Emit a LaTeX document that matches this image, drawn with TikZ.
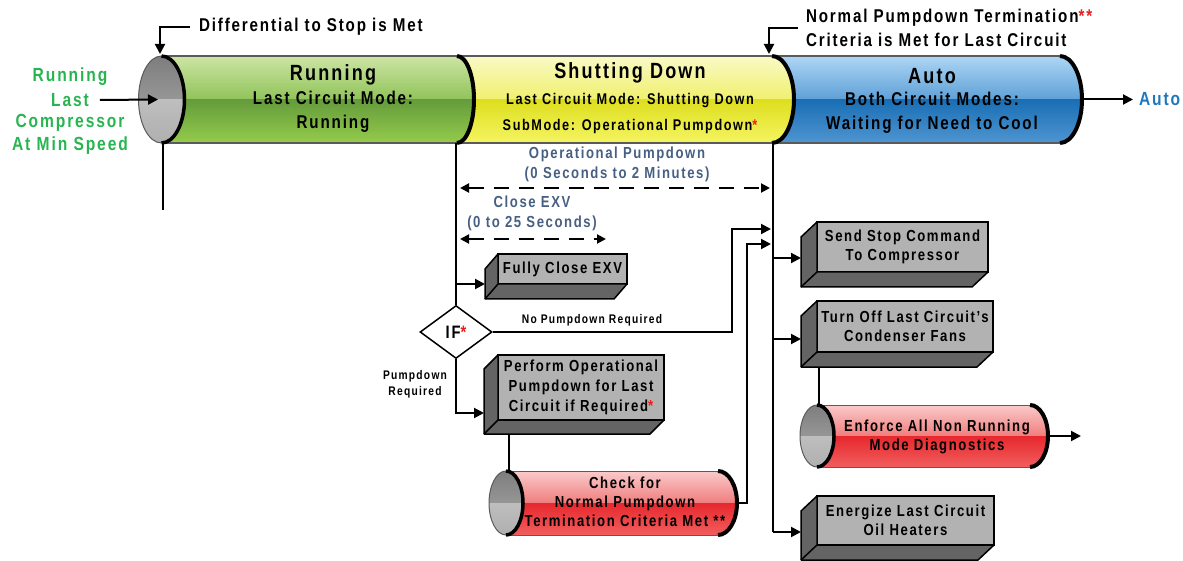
\documentclass[tikz,border=0pt]{standalone}
\usepackage{fontspec}
\setmainfont{Liberation Sans}[FakeStretch=0.82,LetterSpace=10]
\usetikzlibrary{arrows.meta,calc,shapes.geometric}
\definecolor{txtgreen}{RGB}{40,180,80}
\definecolor{txtblue}{RGB}{30,120,190}
\definecolor{lblblue}{RGB}{70,95,130}
\definecolor{boxgray}{RGB}{178,178,178}
\definecolor{sidegray}{RGB}{100,100,100}
\definecolor{starred}{RGB}{235,30,30}
\definecolor{edgegray}{RGB}{90,90,90}
\definecolor{greena}{RGB}{205,230,165}
\definecolor{greenb}{RGB}{145,195,90}
\definecolor{greenc}{RGB}{100,155,60}
\definecolor{greend}{RGB}{150,205,75}
\definecolor{yela}{RGB}{250,250,200}
\definecolor{yelb}{RGB}{240,240,110}
\definecolor{yelc}{RGB}{222,222,30}
\definecolor{yeld}{RGB}{245,245,100}
\definecolor{bluea}{RGB}{175,215,245}
\definecolor{blueb}{RGB}{95,160,215}
\definecolor{bluec}{RGB}{25,110,180}
\definecolor{blued}{RGB}{80,150,210}
\definecolor{reda}{RGB}{250,205,205}
\definecolor{redb}{RGB}{240,125,125}
\definecolor{redc}{RGB}{230,40,45}
\definecolor{redd}{RGB}{242,95,95}
\definecolor{capa}{RGB}{125,125,125}
\definecolor{capb}{RGB}{150,150,150}
\definecolor{capc}{RGB}{190,190,190}
\definecolor{capd}{RGB}{175,175,175}

% x1 x2 ytop ybot rx ry colorprefix
\newcommand{\glossyseg}[7]{%
  \begin{scope}
    \clip (#1,#3) -- (#2,#3) arc[start angle=90,end angle=-90,x radius=#5pt,y radius=#6pt] -- (#1,#4) -- cycle;
    \shade[top color=#7a,bottom color=#7b] (#1-2,#3-1) rectangle (#2+#5+2,{(#3+#4)/2});
    \shade[top color=#7c,bottom color=#7d] (#1-2,{(#3+#4)/2}) rectangle (#2+#5+2,#4+1);
  \end{scope}}
% cx cy rx ry
\newcommand{\capell}[4]{%
  \begin{scope}
    \clip (#1,#2) ellipse[x radius=#3pt,y radius=#4pt];
    \shade[top color=capa,bottom color=capb] (#1-#3-1,#2-#4-1) rectangle (#1+#3+1,#2);
    \shade[top color=capc,bottom color=capd] (#1-#3-1,#2) rectangle (#1+#3+1,#2+#4+1);
  \end{scope}
  \draw[edgegray,line width=1pt] (#1,#2) ellipse[x radius=#3pt,y radius=#4pt];
  \draw[black,line width=3.5pt] (#1,#2-#4) arc[start angle=90,end angle=-90,x radius=#3pt,y radius=#4pt];}
% node dx dy
\newcommand{\bevel}[3]{%
  \draw[fill=sidegray,line width=1.5pt,line join=round]
    ($(#1.north west)+(-#2,#3)$) -- (#1.north west) -- (#1.south west) -- (#1.south east)
    -- ($(#1.south east)+(-#2,#3)$) -- ($(#1.south west)+(-#2,#3)$) -- cycle;
  \draw[line width=1.5pt] (#1.south west) -- ($(#1.south west)+(-#2,#3)$);}

\begin{document}
\begin{tikzpicture}[x=1pt,y=-1pt,
  >={Triangle[length=10pt,width=10pt]},
  line width=2pt,
  lbl/.style={inner sep=0pt,font=\bfseries\fontsize{18.5}{24}\selectfont},
  gtxt/.style={inner sep=0pt,text=txtgreen,font=\bfseries\fontsize{19}{23}\selectfont},
  ttl/.style={inner sep=0pt,font=\bfseries\fontsize{22}{26}\selectfont},
  blbl/.style={inner sep=0pt,align=center,text=lblblue,font=\bfseries\fontsize{16}{19.5}\selectfont},
  slbl/.style={inner sep=0pt,align=center,font=\bfseries\fontsize{12.5}{16}\selectfont},
  boxtxt/.style={inner sep=0pt,align=center,font=\bfseries\fontsize{16}{19}\selectfont},
  bevelbox/.style={draw,line width=1.5pt,fill=boxgray,outer sep=0pt,inner sep=0pt,align=center,
    font=\bfseries\fontsize{16}{19}\selectfont},
  dimarrow/.style={<->,>={Triangle[length=9pt,width=9pt]},dash pattern=on 15pt off 10pt,line width=2pt},
  cylrim/.style={edgegray,line width=1.5pt},
  rimarc/.style={black,line width=4pt}]
\useasboundingbox (0,0) rectangle (1183,561);

% ---------- main cylinder ----------
\glossyseg{772}{1060}{56}{143}{22}{43.5}{blue}
\glossyseg{457}{772}{56}{143}{22}{43.5}{yel}
\glossyseg{161.5}{457}{56}{143}{17}{43.5}{green}
\draw[cylrim] (161.5,56) -- (1060,56) (161.5,143) -- (1060,143);
\draw[rimarc] (457,56) arc[start angle=90,end angle=-90,x radius=17pt,y radius=43.5pt];
\draw[rimarc] (772,56) arc[start angle=90,end angle=-90,x radius=22pt,y radius=43.5pt];
\draw[rimarc] (1060,56) arc[start angle=90,end angle=-90,x radius=22pt,y radius=43.5pt];
\capell{161.5}{99.5}{23}{43.5}

\node[ttl] (runT) at (333,75) {Running};
\node[lbl,align=center] (runS) at (333,112) {Last Circuit Mode:\\Running};
\node[ttl] (shdT) at (630,73) {Shutting Down};
\node[inner sep=0pt,align=center,font=\bfseries\fontsize{15.5}{26}\selectfont] (shdS) at (630,113)
  {Last Circuit Mode: Shutting Down\\SubMode: Operational Pumpdown\textcolor{starred}{*}};
\node[ttl] (autT) at (932,76) {Auto};
\node[lbl,align=center] (autS) at (932,113) {Both Circuit Modes:\\Waiting for Need to Cool};

% ---------- red cylinder 1 ----------
\glossyseg{506}{718}{471}{535}{19}{32}{red}
\draw[edgegray,line width=1pt] (506,471) -- (718,471) (506,535) -- (718,535);
\draw[rimarc] (718,471) arc[start angle=90,end angle=-90,x radius=19pt,y radius=32pt];
\capell{506}{503}{17}{32}
\node[boxtxt] (chk) at (625,502) {Check for\\Normal Pumpdown\\Termination Criteria Met **};

% ---------- red cylinder 2 ----------
\glossyseg{817}{1030}{405}{467}{18}{31}{red}
\draw[edgegray,line width=1pt] (817,405) -- (1030,405) (817,467) -- (1030,467);
\draw[rimarc] (1030,405) arc[start angle=90,end angle=-90,x radius=18pt,y radius=31pt];
\capell{817}{436}{17}{31}
\node[boxtxt] (enf) at (937,436.5) {Enforce All Non Running\\Mode Diagnostics};

% ---------- boxes ----------
\node[bevelbox,minimum width=129,minimum height=30] (fce) at (562.5,269) {Fully Close EXV};
\bevel{fce}{13}{15}
\node[bevelbox,minimum width=166,minimum height=65,font=\bfseries\fontsize{16}{20}\selectfont] (perf) at (581,387.5)
  {Perform Operational\\Pumpdown for Last\\Circuit if Required\textcolor{starred}{*}};
\bevel{perf}{14}{14}
\node[bevelbox,minimum width=171,minimum height=50] (stop) at (902.5,247) {Send Stop Command\\To Compressor};
\bevel{stop}{16}{15}
\node[bevelbox,minimum width=176,minimum height=51] (fans) at (905,326.5) {Turn Off Last Circuit’s\\Condenser Fans};
\bevel{fans}{16}{15}
\node[bevelbox,minimum width=177,minimum height=49] (heat) at (905.5,520.5) {Energize Last Circuit\\Oil Heaters};
\bevel{heat}{16}{15}

% ---------- diamond ----------
\node[diamond,draw,fill=white,line width=1.5pt,minimum width=72,minimum height=53,inner sep=0pt,
  font=\bfseries\fontsize{18}{20}\selectfont] (if) at (456,332) {IF\textcolor{starred}{*}};

% ---------- labels ----------
\node[lbl,anchor=west] (diff) at (198,27) {Differential to Stop is Met};
\node[lbl,anchor=west,align=left] (npt) at (805,28)
  {Normal Pumpdown Termination\textcolor{starred}{**}\\Criteria is Met for Last Circuit};
\node[gtxt] (g1) at (70,77) {Running};
\node[gtxt] (g2) at (70,100) {Last};
\node[gtxt] (g3) at (70,123) {Compressor};
\node[gtxt] (g4) at (70,146) {At Min Speed};
\node[inner sep=0pt,anchor=west,text=txtblue,font=\bfseries\fontsize{19}{23}\selectfont] (auto) at (1138,99.5) {Auto};
\node[blbl] (oplbl) at (617,164.5) {Operational Pumpdown\\(0 Seconds to 2 Minutes)};
\node[blbl,font=\bfseries\fontsize{16}{20}\selectfont] (cxlbl) at (532,213) {Close EXV\\(0 to 25 Seconds)};
\node[slbl] (npr) at (592,320) {No Pumpdown Required};
\node[slbl] (pr) at (415,384) {Pumpdown\\Required};

% ---------- coordinates ----------
\coordinate (c0top) at (160,54);
\coordinate (c0mid) at (158,99.5);
\coordinate (c0bot) at (163,143);
\coordinate (c0end) at (163,210);
\coordinate (d1bot) at (456,143);
\coordinate (d2top) at (769,54);
\coordinate (d2bot) at (773,143);
\coordinate (trEnd) at (773,532);
\coordinate (c3east) at (1082,99.5);
\coordinate (op1) at (460,188);
\coordinate (op2) at (770,188);
\coordinate (cx1) at (460,239);
\coordinate (cx2) at (606,239);
\coordinate (fceL) at ($(fce.west)+(-13,15)$);
\coordinate (perfL) at (484,413);
\coordinate (j1) at (732,229);
\coordinate (t1) at (771,229);
\coordinate (pb) at (509,434);
\coordinate (cy1n) at (509,471);
\coordinate (cy1e) at (737,503);
\coordinate (j2) at (747,244);
\coordinate (t2) at (771,244);
\coordinate (stopL) at (801,258);
\coordinate (fansL) at (801,339);
\coordinate (heatL) at (801,532);
\coordinate (fb) at (819,367);
\coordinate (cy2n) at (819,405);
\coordinate (cy2e) at (1048,436);
\coordinate (cy2t) at (1081,436);

% ---------- connectors ----------
\draw[->] ([xshift=-8pt]diff.west) -| (c0top);
\draw[->] ([xshift=-7pt]npt.west) -| (d2top);
\draw[->] ([xshift=10pt]g2.east) -- (c0mid);
\draw[->] (c3east) -- ([xshift=-5pt]auto.west);
\draw (c0bot) -- (c0end);
\draw (d1bot) -- (if.north);
\draw[->] (d1bot |- fceL) -- (fceL);
\draw[->] (if.east) -| (j1) -- (t1);
\draw[->] (if.south) |- (perfL);
\draw (pb) -- (cy1n);
\draw[->] (cy1e) -| (j2) -- (t2);
\draw (d2bot) -- (trEnd);
\draw[->] (d2bot |- stopL) -- (stopL);
\draw[->] (d2bot |- fansL) -- (fansL);
\draw[->] (d2bot |- heatL) -- (heatL);
\draw (fb) -- (cy2n);
\draw[->] (cy2e) -- (cy2t);
\draw[dimarrow] (op1) -- (op2);
\draw[dimarrow] (cx1) -- (cx2);
\end{tikzpicture}
\end{document}
